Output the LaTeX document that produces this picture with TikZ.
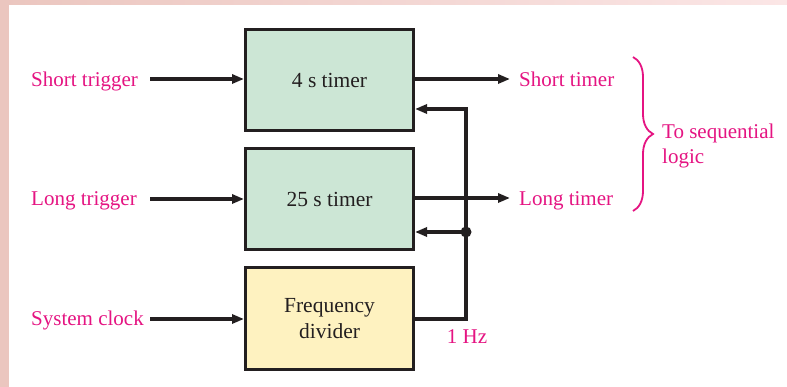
\documentclass[tikz,border=0pt]{standalone}
\usepackage{fontspec}
\setmainfont{Liberation Serif}
\usetikzlibrary{arrows.meta,decorations.pathreplacing}
\definecolor{mag}{RGB}{229,20,130}
\definecolor{boxgreen}{RGB}{204,230,213}
\definecolor{boxyellow}{RGB}{254,242,192}
\definecolor{edge}{RGB}{35,31,32}
\definecolor{bandA}{RGB}{235,198,191}
\definecolor{bandB}{RGB}{251,230,230}
\begin{document}
\begin{tikzpicture}[x=1pt,y=-1pt,
  blockbox/.style={draw=edge,line width=3pt,minimum width=168pt,minimum height=101pt,inner sep=0pt,align=center,text=edge,font=\fontsize{21.5}{25.5}\selectfont},
  lbl/.style={text=mag,font=\fontsize{21}{25}\selectfont,inner sep=0pt},
  conn/.style={draw=edge,line width=3.6pt},
  arr/.style={conn,-{Triangle[length=12pt,width=9pt]}}]
\useasboundingbox (0,0) rectangle (787,387);
\fill[white] (0,0) rectangle (787,387);
\shade[left color=bandA,right color=bandB] (0,0) rectangle (787,4.5);
\fill[bandA] (0,0) rectangle (9,387);
% blocks
\node[blockbox,fill=boxgreen] (t4) at (329.5,80) {4 s timer};
\node[blockbox,fill=boxgreen] (t25) at (329.5,199.5) {25 s timer};
\node[blockbox,fill=boxyellow] (fd) at (329.5,318.5) {Frequency\\divider};
% input labels
\node[lbl,anchor=base west] (st) at (31,87) {Short trigger};
\node[lbl,anchor=base west] (lt) at (31,206) {Long trigger};
\node[lbl,anchor=base west] (sc) at (31,326) {System clock};
\coordinate (st0) at (150,79);
\coordinate (lt0) at (150,199);
\coordinate (sc0) at (150,319);
\draw[arr] (st0) -- (t4.west |- st0);
\draw[arr] (lt0) -- (t25.west |- lt0);
\draw[arr] (sc0) -- (fd.west |- sc0);
% outputs
\node[lbl,anchor=base west] (so) at (519,87) {Short timer};
\node[lbl,anchor=base west] (lo) at (519,206) {Long timer};
\coordinate (so0) at (510,79);
\coordinate (lo0) at (510,198);
\draw[arr] (t4.east |- so0) -- (so0);
\draw[arr] (t25.east |- lo0) -- (lo0);
% feedback
\coordinate (fout) at (415,319);
\coordinate (top) at (466,109);
\coordinate (jn) at (466,232);
\draw[conn] (fd.east |- fout) -| (jn);
\draw[arr,line join=miter] (jn) -- (top) -- (t4.east |- top);
\draw[arr] (jn) -- (t25.east |- jn);
\fill[edge] (jn) circle (5.5pt);
\node[lbl,anchor=base] (hz) at (467,343) {1 Hz};
% brace
\coordinate (b1) at (633,57);
\coordinate (b2) at (633,211);
\draw[mag,line width=1.8pt,decorate,decoration={brace,amplitude=20pt}] (b1) -- (b2);
\node[lbl,anchor=base west,align=left] (seq) at (662,139) {To sequential};
\node[lbl,anchor=base west,align=left] (seq2) at (662,164) {logic};
\end{tikzpicture}
\end{document}
